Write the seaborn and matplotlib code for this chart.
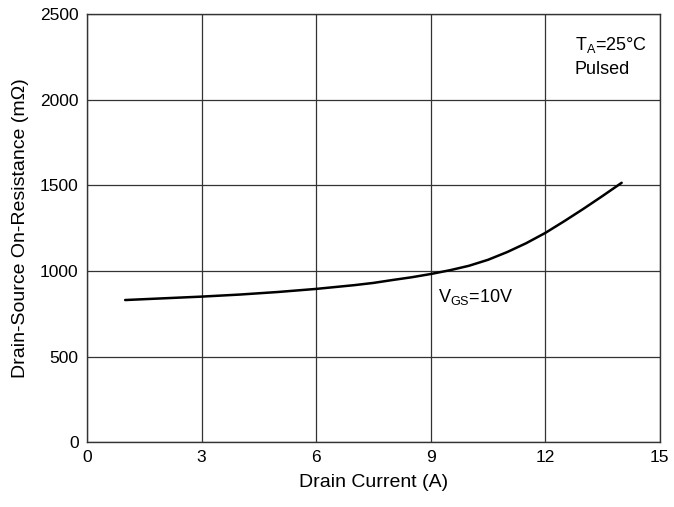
import numpy as np
import pandas as pd
import seaborn as sns
import matplotlib.pyplot as plt

# Drain current (A) vs on-resistance (mOhm), VGS = 10 V
drain_current = [1, 2, 3, 4, 5, 6, 7, 7.5, 8, 8.5, 9, 9.5, 10, 10.5, 11, 11.5, 12, 12.5, 13, 13.5, 14]
on_resistance = [830, 840, 850, 862, 877, 895, 917, 930, 947, 963, 982, 1004, 1030, 1065, 1110, 1162,
                 1222, 1291, 1363, 1438, 1515]
x_ticks = [0, 3, 6, 9, 12, 15]
y_ticks = [0, 500, 1000, 1500, 2000, 2500]

df = pd.DataFrame({'Id': drain_current, 'Rds': on_resistance})

sns.set_style('white')
plt.rcParams['font.family'] = ['Liberation Sans', 'DejaVu Sans']
plt.rcParams['mathtext.fontset'] = 'custom'
plt.rcParams['mathtext.rm'] = 'Liberation Sans'
plt.rcParams['text.color'] = 'black'
plt.rcParams['axes.labelcolor'] = 'black'

fig = plt.figure(figsize=(6.74, 5.07), dpi=100)
ax = fig.add_axes([0.129, 0.128, 0.850, 0.844])

sns.lineplot(data=df, x='Id', y='Rds', ax=ax, color='black', linewidth=1.8)

ax.set_xlim(0, 15)
ax.set_ylim(0, 2500)
ax.set_xticks(x_ticks)
ax.set_yticks(y_ticks)
ax.grid(True, color='#333333', linewidth=0.9)
ax.tick_params(length=0, labelsize=12.5, colors='black', pad=6)
for s in ax.spines.values():
    s.set_color('#333333')
    s.set_linewidth(1.0)

ax.set_xlabel('Drain Current (A)', fontsize=14, labelpad=6)
ax.set_ylabel('Drain-Source On-Resistance (m\u03a9)', fontsize=14, labelpad=8)

ax.text(12.77, 2320, r'T$_\mathregular{A}$=25°C', fontsize=13, va='center')
ax.text(12.77, 2175, 'Pulsed', fontsize=13, va='center')
ax.text(9.2, 850, r'V$_\mathregular{GS}$=10V', fontsize=13, va='center')

fig.savefig('out.png', dpi=100)
